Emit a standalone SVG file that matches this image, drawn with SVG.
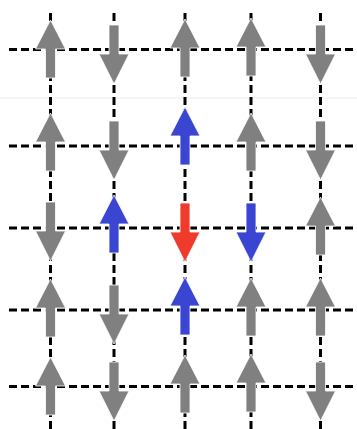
<svg xmlns="http://www.w3.org/2000/svg" width="357" height="429" viewBox="0 0 357 429">
<style>
.ln{stroke:#000;stroke-width:3;stroke-dasharray:8 4;fill:none}
.g{fill:#808080;stroke:#fff;stroke-width:0.8}
.b{fill:#3a46d2;stroke:#fff;stroke-width:0.8}
.r{fill:#f03a2b;stroke:#fff;stroke-width:0.8}
</style>
<defs>
<path id="up" d="M0,0 L15,29 L5,29 L5,58 L-5,58 L-5,29 L-15,29 Z"/>
<path id="dn" d="M-5,0 L5,0 L5,29 L15,29 L0,59 L-15,29 L-5,29 Z"/>
</defs>
<rect width="357" height="429" fill="#fff"/>
<line x1="0" y1="98" x2="357" y2="98" stroke="#ebebeb" stroke-width="1"/>
<g id="connectors">
<line class="ln" x1="9" y1="49.5" x2="357" y2="49.5"/>
<line class="ln" x1="9" y1="146" x2="357" y2="146"/>
<line class="ln" x1="9" y1="228" x2="357" y2="228"/>
<line class="ln" x1="9" y1="310" x2="357" y2="310"/>
<line class="ln" x1="9" y1="386.5" x2="357" y2="386.5"/>
<line class="ln" x1="50.5" y1="13" x2="50.5" y2="429"/>
<line class="ln" x1="114" y1="13" x2="114" y2="429"/>
<line class="ln" x1="185" y1="13" x2="185" y2="429"/>
<line class="ln" x1="251" y1="13" x2="251" y2="429"/>
<line class="ln" x1="320.5" y1="13" x2="320.5" y2="429"/>
</g>
<g id="n11"><use href="#up" class="g" x="50.5" y="20"/></g>
<g id="n12"><use href="#dn" class="g" x="114" y="25"/></g>
<g id="n13"><use href="#up" class="g" x="185" y="19"/></g>
<g id="n14"><use href="#up" class="g" x="251" y="18"/></g>
<g id="n15"><use href="#dn" class="g" x="320.5" y="25"/></g>
<g id="n21"><use href="#up" class="g" x="50.5" y="113"/></g>
<g id="n22"><use href="#dn" class="g" x="114" y="121"/></g>
<g id="n23"><use href="#up" class="b" x="185" y="107"/></g>
<g id="n24"><use href="#up" class="g" x="251" y="113"/></g>
<g id="n25"><use href="#dn" class="g" x="320.5" y="121"/></g>
<g id="n31"><use href="#dn" class="g" x="50.5" y="202"/></g>
<g id="n32"><use href="#up" class="b" x="114" y="195"/></g>
<g id="n33"><use href="#dn" class="r" x="185" y="203"/></g>
<g id="n34"><use href="#dn" class="b" x="251" y="203"/></g>
<g id="n35"><use href="#up" class="g" x="320.5" y="197"/></g>
<g id="n41"><use href="#up" class="g" x="50.5" y="279"/></g>
<g id="n42"><use href="#dn" class="g" x="114" y="285"/></g>
<g id="n43"><use href="#up" class="b" x="185" y="277"/></g>
<g id="n44"><use href="#up" class="g" x="251" y="278"/></g>
<g id="n45"><use href="#up" class="g" x="320.5" y="278"/></g>
<g id="n51"><use href="#up" class="g" x="50.5" y="357"/></g>
<g id="n52"><use href="#dn" class="g" x="114" y="362"/></g>
<g id="n53"><use href="#up" class="g" x="185" y="355"/></g>
<g id="n54"><use href="#up" class="g" x="251" y="354"/></g>
<g id="n55"><use href="#dn" class="g" x="320.5" y="362"/></g>
</svg>
